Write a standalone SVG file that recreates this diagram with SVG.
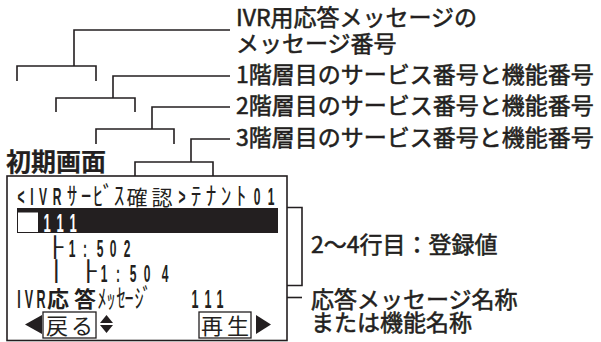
<svg xmlns="http://www.w3.org/2000/svg" width="601" height="342" viewBox="0 0 601 342">
<style>
.lbl{font-family:"Noto Sans CJK JP","Liberation Sans",sans-serif;font-size:23px;fill:#231f20;stroke:#231f20;stroke-width:0.55}
.ln{fill:none;stroke:#231f20;stroke-width:1.6}
.lat{font-family:"Liberation Sans",sans-serif;font-weight:bold;fill:#231f20;text-anchor:middle}
.jp{font-family:"Noto Sans CJK JP",sans-serif;fill:#231f20;text-anchor:middle}
.box{font-family:"DejaVu Sans Mono",monospace;fill:#231f20;font-size:20px}
.k{fill:none;stroke:#231f20;stroke-width:1.3}
</style>
<rect width="601" height="342" fill="#fff"/>
<g id="connectors" class="ln">
<path d="M230,30 H74 V66 M17,81 V66 H96 V81"/>
<path d="M230,76 H113 V98 M56,112 V98 H135 V112"/>
<path d="M230,107 H152 V129 M96,144 V129 H174 V144"/>
<path d="M230,139 H191 V162 M135,176 V162 H213 V176"/>
<path d="M287,207.5 H302 V285.5 H287"/>
<path d="M287,297.5 H302"/>
</g>
<g id="label-msgno"><text class="lbl" x="236" y="26">IVR用応答メッセージの</text><text class="lbl" x="236" y="52">メッセージ番号</text></g>
<g id="label-lv1"><text class="lbl" x="236" y="83">1階層目のサービス番号と機能番号</text></g>
<g id="label-lv2"><text class="lbl" x="236" y="114">2階層目のサービス番号と機能番号</text></g>
<g id="label-lv3"><text class="lbl" x="236" y="146">3階層目のサービス番号と機能番号</text></g>
<g id="label-initial"><text class="lbl" x="6" y="171" style="font-size:25px;font-weight:bold;stroke-width:0.2">初期画面</text></g>
<g id="label-rows"><text class="lbl" x="311" y="253">2〜4行目：登録値</text></g>
<g id="label-name"><text class="lbl" x="311" y="308">応答メッセージ名称</text><text class="lbl" x="311" y="331">または機能名称</text></g>
<g id="screen">
<rect x="7" y="176" width="280" height="164.5" fill="none" stroke="#231f20" stroke-width="1.6"/>
<text class="lat" transform="scale(0.5,1)" style="font-size:24px" x="42 64 86 114 364 514 542" y="205">&lt;IVR&gt;01</text>
<text class="jp" transform="scale(0.85,1)" style="font-size:25px" x="84.7 101.2 115.3 127.1 140" y="205">ｻｰﾋﾞｽ</text>
<text class="jp" style="font-size:21px" x="137 162" y="205">確認</text>
<text class="jp" transform="scale(0.85,1)" style="font-size:25px" x="230.6 248.2 265.9 283.5" y="205">ﾃﾅﾝﾄ</text>
<rect x="17" y="208" width="261" height="25" fill="#231f20"/>
<rect x="18" y="212.5" width="20" height="19.5" fill="#fff"/>
<text class="lat" transform="scale(0.5,1)" style="font-size:26px;fill:#fff" x="94 120 146" y="232">111</text>
<text class="box" transform="scale(1.35,1)" x="34.7" y="254.5">├</text>
<text class="lat" transform="scale(0.5,1)" style="font-size:24px" x="144 170 200 226 254" y="257">1:502</text>
<text class="box" transform="scale(1.35,1)" x="35.5 59.2" y="278.5">│├</text>
<text class="lat" transform="scale(0.5,1)" style="font-size:24px" x="208 236 266 294 330" y="282">1:504</text>
<text class="lat" transform="scale(0.5,1)" style="font-size:25px" x="38 58 82 390 416 440" y="308">IVR111</text>
<text class="jp" style="font-size:22px;font-weight:bold" x="58 85" y="307">応答</text>
<text class="jp" transform="scale(0.7,1)" style="font-size:26px" x="145.7 158.6 172.9 184.3 198.6 210" y="308">ﾒｯｾｰｼﾞ</text>
<polygon points="25,324.5 42,315 42,334" fill="#231f20"/>
<rect class="k" x="43" y="312" width="53" height="26"/>
<text class="jp" style="font-size:22px" x="57 82" y="334">戻る</text>
<polygon points="100,323 106.5,315 113,323" fill="#231f20"/>
<polygon points="100,325 106.5,333 113,325" fill="#231f20"/>
<rect class="k" x="199" y="312" width="52" height="26"/>
<text class="jp" style="font-size:22px" x="212 238" y="334">再生</text>
<polygon points="256,315 271,324.5 256,334" fill="#231f20"/>
</g>
</svg>
